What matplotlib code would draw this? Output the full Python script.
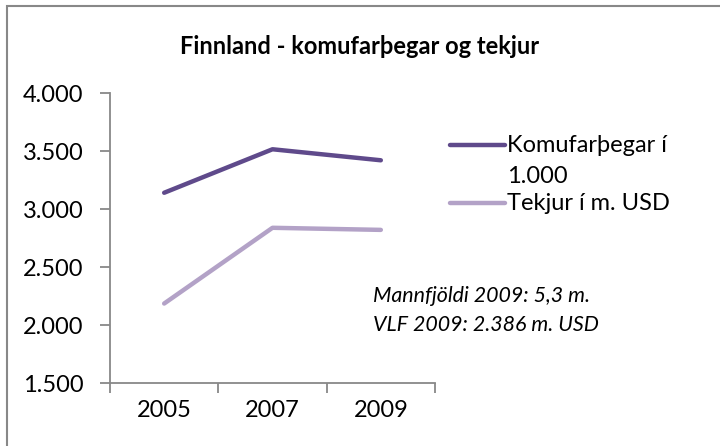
import matplotlib
matplotlib.use("Agg")
import matplotlib.pyplot as plt
from matplotlib.lines import Line2D
from matplotlib.patches import Rectangle
from matplotlib.ticker import FuncFormatter, FixedLocator

# data
years = ["2005", "2007", "2009"]
komufarthegar = [3140, 3515, 3420]   # komufarþegar í 1.000
tekjur = [2185, 2838, 2820]          # tekjur í m. USD
y_ticks = [1500, 2000, 2500, 3000, 3500, 4000]

dark = "#5f4a8b"
light = "#b3a2c7"
grey = "#888888"

plt.rcParams["font.family"] = ["Lato", "DejaVu Sans"]

fig = plt.figure(figsize=(7.2, 4.46), dpi=100)
ax = fig.add_axes([110 / 720, 1 - 383 / 446, 325 / 720, 290 / 446])

x = range(len(years))
ax.plot(x, komufarthegar, color=dark, lw=3.2, solid_capstyle="round")
ax.plot(x, tekjur, color=light, lw=3.2, solid_capstyle="round")

ax.set_xlim(-0.5, 2.5)
ax.set_ylim(1500, 4000)
ax.set_yticks(y_ticks)
ax.yaxis.set_major_formatter(FuncFormatter(lambda v, p: f"{int(v):,}".replace(",", ".")))

# category labels centred, ticks on the boundaries
ax.set_xticks(list(x))
ax.set_xticklabels(years)
ax.xaxis.set_minor_locator(FixedLocator([-0.5, 0.5, 1.5, 2.5]))
ax.tick_params(axis="x", which="major", length=0, pad=12, labelsize=17)
ax.tick_params(axis="x", which="minor", length=7, width=1.3, color=grey)
ax.tick_params(axis="y", length=7, width=1.3, color=grey, pad=12, labelsize=17)

for s in ["top", "right"]:
    ax.spines[s].set_visible(False)
for s in ["left", "bottom"]:
    ax.spines[s].set_color(grey)
    ax.spines[s].set_linewidth(1.3)

fig.text(0.5, 1 - 46 / 446, "Finnland - komufarþegar og tekjur",
         ha="center", va="center", fontsize=17, fontweight="bold")

# legend drawn by hand (first label wraps)
fig.add_artist(Line2D([450 / 720, 505 / 720], [1 - 145 / 446] * 2,
                      color=dark, lw=3.2, solid_capstyle="round"))
fig.add_artist(Line2D([450 / 720, 505 / 720], [1 - 203 / 446] * 2,
                      color=light, lw=3.2, solid_capstyle="round"))
fig.text(507 / 720, 1 - 145 / 446, "Komufarþegar í", va="center", fontsize=17)
fig.text(507 / 720, 1 - 177 / 446, "1.000", va="center", fontsize=17)
fig.text(507 / 720, 1 - 203 / 446, "Tekjur í m. USD", va="center", fontsize=17)

fig.text(373 / 720, 1 - 296 / 446, "Mannfjöldi 2009: 5,3 m.",
         va="center", fontsize=15.4, style="italic")
fig.text(373 / 720, 1 - 325 / 446, "VLF 2009: 2.386 m. USD",
         va="center", fontsize=15.4, style="italic")

# outer chart frame
fig.add_artist(Rectangle((7 / 720, -0.2), 1.2, 1 - 6 / 446 + 0.2, transform=fig.transFigure,
                         fill=False, edgecolor=grey, lw=1.5))

fig.savefig("out.png", dpi=100)
